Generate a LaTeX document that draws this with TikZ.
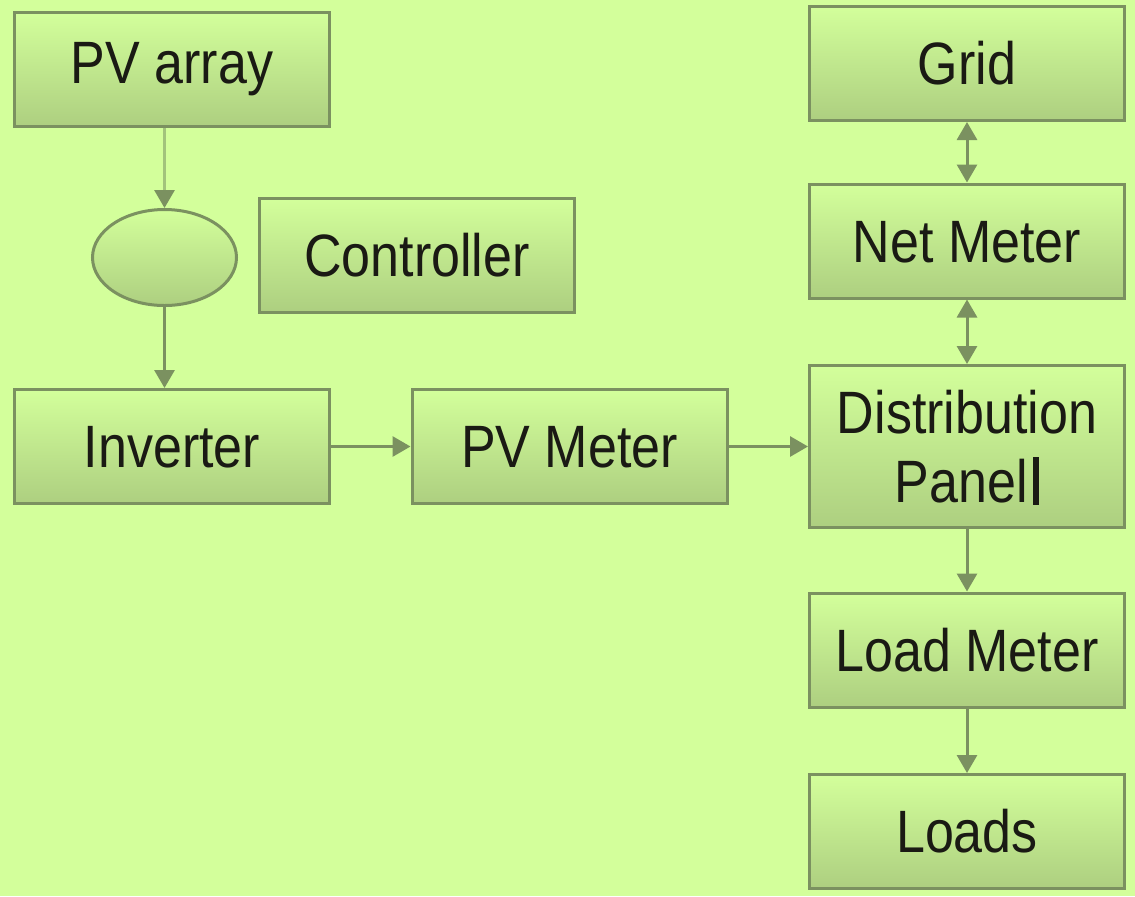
\documentclass[tikz,border=0pt]{standalone}
\usepackage{fontspec}
\setmainfont{Liberation Sans}
\usepackage{graphicx}
\usetikzlibrary{arrows.meta,shapes.geometric}
\definecolor{bg}{HTML}{D3FF9B}
\definecolor{edge}{HTML}{7B9160}
\definecolor{edgelight}{HTML}{A2C37C}
\definecolor{boxtop}{HTML}{D3FF9B}
\definecolor{boxbot}{HTML}{ADCF80}
\definecolor{ink}{HTML}{1A1A14}
% text stretched a bit upward, caps centred in the box
\newcommand{\tall}[2][0pt]{\scalebox{1}[1.15]{\raisebox{0pt}[0.716em][#1]{#2}}}
\newcommand{\twoline}[2]{\scalebox{1}[1.15]{\raisebox{-3.3pt}[\height][\depth]{\begin{tabular}{@{}c@{}}#1\\#2\end{tabular}}}}
\begin{document}
\begin{tikzpicture}[x=0.5pt,y=-0.5pt,
    blk/.style={draw=edge, line width=1.5pt, top color=boxtop, bottom color=boxbot,
        minimum width=157.5pt, minimum height=57pt, inner sep=0pt, text=ink,
        font=\fontsize{26}{30}\selectfont},
    arr/.style={draw=edge, line width=1.5pt, -{Triangle[length=9pt,width=10pt]}},
    darr/.style={arr, {Triangle[length=9pt,width=10pt]}-{Triangle[length=9pt,width=10pt]}}]
    %background
    \fill[bg] (0,0) rectangle (1135,896);
    \useasboundingbox (0,0) rectangle (1135,896);

    %boxes
    \node[blk] (pv) at (172,69.5) {\tall[0.25em]{PV array}};
    \node[draw=edge, line width=1.5pt, top color=boxtop, bottom color=boxbot,
        ellipse, minimum width=72pt, minimum height=48pt, inner sep=0pt] (ell) at (164.5,257.5) {};
    \node[blk] (ctrl) at (417,255) {\tall{Controller}};
    \node[blk] (inv) at (172,446.5) {\tall{Inverter}};
    \node[blk] (pvm) at (569.5,446.5) {\tall{PV Meter}};
    \node[blk] (grid) at (967,63.5) {\tall{Grid}};
    \node[blk] (net) at (967,241) {\tall{Net Meter}};
    \node[blk, minimum height=81pt] (dist) at (967,446.5)
        {\twoline{Distribution}{Panel\hspace{0.11em}\rule[-0.04em]{0.115em}{0.8em}}};
    \node[blk] (lm) at (967,650) {\tall{Load Meter}};
    \node[blk] (loads) at (967,831.5) {\tall{Loads}};

    %arrows
    \draw[arr, draw=edgelight, -{Triangle[length=9pt,width=10pt,color=edge]}] (pv.south -| ell.north) -- (ell.north);
    \draw[arr] (ell.south) -- (ell.south |- inv.north);
    \draw[arr] (inv.east) -- (pvm.west);
    \draw[arr] (pvm.east) -- (dist.west);
    \draw[darr] (dist.north) -- (net.south);
    \draw[darr] (net.north) -- (grid.south);
    \draw[arr] (dist.south) -- (lm.north);
    \draw[arr] (lm.south) -- (loads.north);
\end{tikzpicture}
\end{document}
